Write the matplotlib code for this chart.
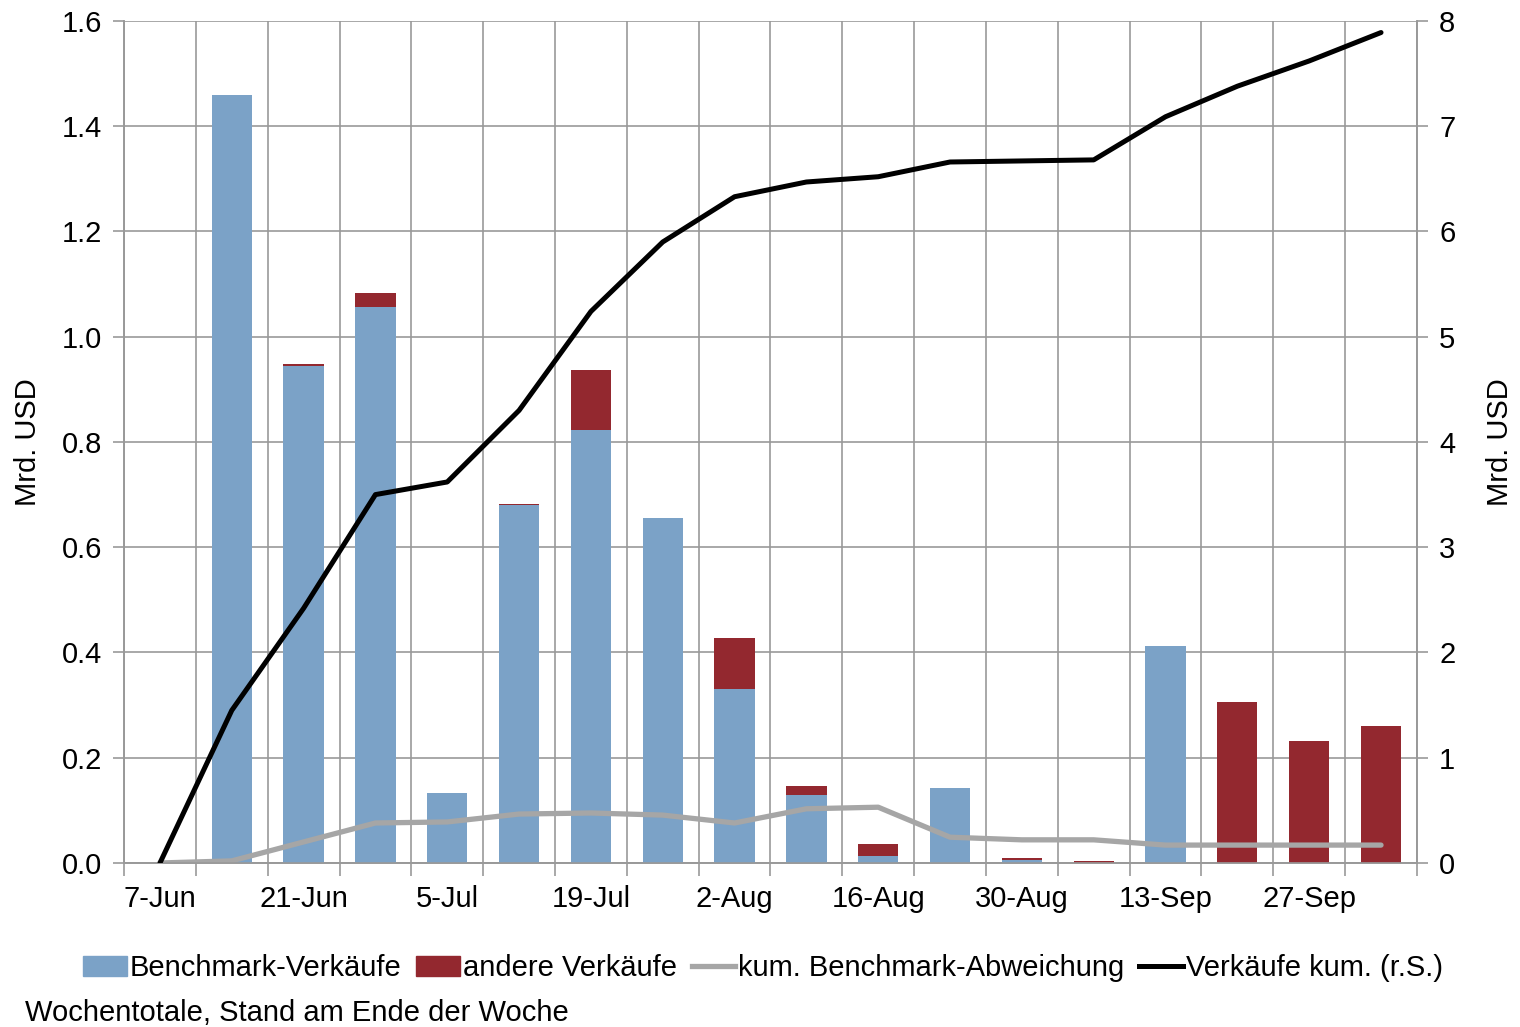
import matplotlib.pyplot as plt
import numpy as np
from matplotlib.patches import Patch
from matplotlib.lines import Line2D
from matplotlib.ticker import FormatStrFormatter

plt.rcParams['font.family'] = ['Liberation Sans', 'DejaVu Sans']

#==[0] Weekly data (Mrd. USD)
weeks = ["7-Jun", "14-Jun", "21-Jun", "28-Jun", "5-Jul", "12-Jul", "19-Jul",
         "26-Jul", "2-Aug", "9-Aug", "16-Aug", "23-Aug", "30-Aug", "6-Sep",
         "13-Sep", "20-Sep", "27-Sep", "4-Oct"]

benchmark = [0.0, 1.459, 0.944, 1.057, 0.133, 0.680, 0.823, 0.656, 0.331,
             0.129, 0.013, 0.143, 0.006, 0.0, 0.412, 0.0, 0.0, 0.0]
other = [0.0, 0.0, 0.004, 0.026, 0.0, 0.002, 0.114, 0.0, 0.097,
         0.017, 0.023, 0.0, 0.004, 0.004, 0.0, 0.306, 0.232, 0.260]

# cumulative benchmark deviation (left axis)
bench_dev = [0.0, 0.004, 0.040, 0.076, 0.078, 0.093, 0.095, 0.091, 0.076,
             0.103, 0.106, 0.049, 0.044, 0.044, 0.034, 0.034, 0.034, 0.034]

# cumulative sales (right axis)
sales_cum = [0.0, 1.45, 2.42, 3.50, 3.62, 4.30, 5.24, 5.90, 6.33,
             6.47, 6.52, 6.66, 6.67, 6.68, 7.09, 7.38, 7.62, 7.89]

blue = "#7ba2c7"
red = "#93282f"
grey = "#a6a6a6"
gridc = "#999999"
fs = 21

#==[1] Figure and axes
fig = plt.figure(figsize=(15.2, 10.27), dpi=100)
ax1 = fig.add_axes([0.0816, 0.1597, 0.8506, 0.8199])
ax2 = ax1.twinx()

x = np.arange(len(weeks))
ax1.bar(x, benchmark, width=0.56, color=blue, linewidth=0, zorder=3)
ax1.bar(x, other, width=0.56, bottom=benchmark, color=red, linewidth=0,
        zorder=3)
ax1.plot(x, bench_dev, color=grey, linewidth=3.8, solid_capstyle="round",
         zorder=4)
ax2.plot(x, sales_cum, color="black", linewidth=3.6, solid_capstyle="round",
         zorder=5)

ax1.set_xlim(-0.5, len(weeks) - 0.5)
ax1.set_ylim(0, 1.6)
ax2.set_ylim(0, 8)
ax1.set_yticks(np.arange(0, 1.61, 0.2))
ax2.set_yticks(np.arange(0, 9, 1))
ax1.yaxis.set_major_formatter(FormatStrFormatter("%.1f"))

# labels every second week, tick marks and grid on week boundaries
ax1.set_xticks(x[::2])
ax1.set_xticklabels(weeks[::2])
ax1.set_xticks(np.arange(-0.5, len(weeks)), minor=True)
ax1.tick_params(axis="x", which="major", length=0, pad=16, labelsize=fs)
ax1.tick_params(axis="x", which="minor", length=9, color=gridc, width=1.2)
ax1.tick_params(axis="y", length=8, color=gridc, width=1.2, labelsize=fs,
                pad=8)
ax2.tick_params(axis="y", length=8, color=gridc, width=1.2, labelsize=fs,
                pad=8)

ax1.grid(True, which="minor", axis="x", color=gridc, linewidth=1.2, zorder=0)
ax1.grid(True, which="major", axis="y", color=gridc, linewidth=1.2, zorder=0)
ax1.set_axisbelow(True)

for ax in (ax1, ax2):
    for s in ax.spines.values():
        s.set_color(gridc)
        s.set_linewidth(1.2)
    ax.spines["top"].set_visible(False)

ax1.set_ylabel("Mrd. USD", fontsize=fs, labelpad=14)
ax2.set_ylabel("Mrd. USD", fontsize=fs, rotation=90, labelpad=22)

#==[2] Legend and footnote
handles = [Patch(color=blue), Patch(color=red),
           Line2D([], [], color=grey, linewidth=3.8),
           Line2D([], [], color="black", linewidth=3.6)]
labels = ["Benchmark-Verkäufe", "andere Verkäufe",
          "kum. Benchmark-Abweichung", "Verkäufe kum. (r.S.)"]
fig.legend(handles, labels, loc="center", bbox_to_anchor=(0.502, 0.057),
           ncol=4, frameon=False, fontsize=fs, handlelength=1.5,
           handleheight=0.7, handletextpad=0.1, columnspacing=0.5)

fig.text(0.0165, 0.014, "Wochentotale, Stand am Ende der Woche", fontsize=fs,
         va="center", ha="left")

fig.savefig("out.png", dpi=100)
